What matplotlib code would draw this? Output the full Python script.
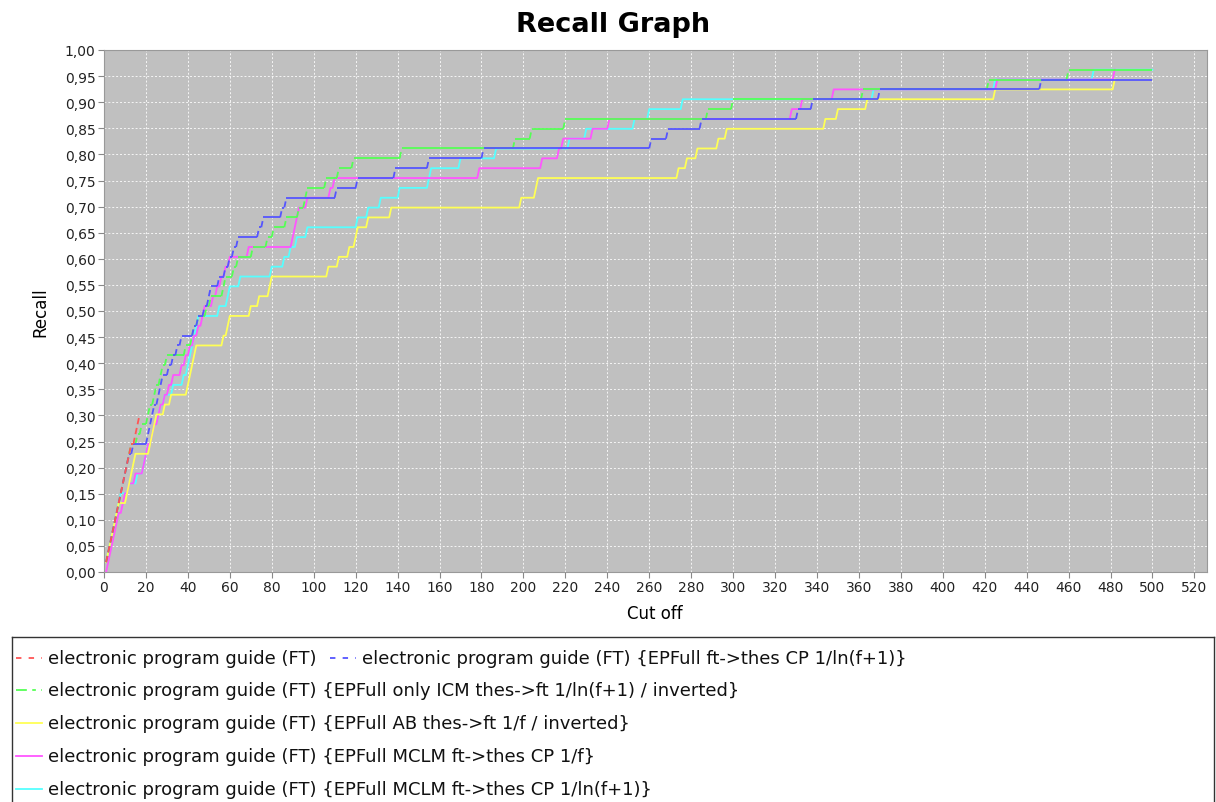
import numpy as np
import matplotlib.pyplot as plt
from matplotlib.lines import Line2D
from matplotlib.collections import LineCollection
from matplotlib.ticker import MultipleLocator, FuncFormatter

plt.rcParams['font.family'] = ['DejaVu Sans']

# total number of relevant documents
n_relevant = 53

labels = [
    "electronic program guide (FT)",
    "electronic program guide (FT) {EPFull ft->thes CP 1/ln(f+1)}",
    "electronic program guide (FT) {EPFull only ICM thes->ft 1/ln(f+1) / inverted}",
    "electronic program guide (FT) {EPFull AB thes->ft 1/f / inverted}",
    "electronic program guide (FT) {EPFull MCLM ft->thes CP 1/f}",
    "electronic program guide (FT) {EPFull MCLM ft->thes CP 1/ln(f+1)}",
]
colors = ["#FF5555", "#5555FF", "#55FF55", "#FFFF55", "#FF55FF", "#55FFFF"]

# ranks (cut off values) at which a relevant document was found
red_hits = [1, 2, 3, 4, 5, 6, 7, 8, 9, 10, 11, 12, 13, 15, 16, 17]
blue_hits = [1, 2, 3, 4, 5, 6, 7, 8, 9, 10, 11, 12, 14, 21, 22, 23, 24, 26, 27, 28,
             31, 33, 35, 37, 43, 45, 48, 50, 51, 55, 58, 60, 62, 64, 74, 76, 85, 87,
             111, 121, 139, 155, 181, 261, 269, 285, 331, 338, 370, 447]
green_hits = [1, 2, 3, 4, 5, 6, 7, 8, 9, 10, 11, 12, 13, 16, 18, 21, 22, 24, 25, 27,
              28, 30, 39, 42, 43, 45, 49, 51, 57, 58, 62, 64, 71, 78, 81, 87, 93, 96,
              97, 106, 112, 119, 142, 196, 204, 220, 288, 300, 362, 422, 460]
yellow_hits = [1, 2, 3, 4, 5, 6, 7, 11, 12, 13, 14, 15, 22, 23, 24, 25, 29, 32, 40,
               41, 42, 43, 44, 57, 59, 60, 70, 74, 79, 80, 107, 112, 117, 120, 121,
               126, 137, 199, 206, 207, 274, 278, 283, 293, 297, 344, 350, 364, 425, 482]
magenta_hits = [2, 3, 4, 5, 6, 7, 9, 10, 12, 15, 19, 20, 21, 23, 24, 26, 27, 29, 31,
                33, 37, 39, 41, 43, 45, 47, 48, 52, 54, 56, 58, 60, 69, 90, 91, 92, 93,
                97, 108, 110, 179, 209, 217, 219, 233, 241, 328, 333, 348, 426, 482]
cyan_hits = [1, 2, 3, 4, 5, 6, 7, 8, 12, 16, 19, 20, 21, 23, 24, 26, 27, 29, 33, 38,
             40, 41, 42, 43, 44, 45, 55, 59, 60, 65, 80, 86, 89, 92, 97, 121, 126, 132,
             141, 155, 156, 170, 187, 222, 230, 253, 260, 276, 367, 425, 472]

# number of cut offs evaluated per run
n_cutoffs = [17, 500, 500, 482, 482, 500]

all_hits = [red_hits, blue_hits, green_hits, yellow_hits, magenta_hits, cyan_hits]
dashed = [True, True, True, False, False, False]


def recall_curve(hits, n_cut):
    k = np.arange(1, n_cut + 1)
    found = np.searchsorted(np.sort(hits), k, side='right')
    return k, found / n_relevant


fig = plt.figure(figsize=(12.16, 8.03), dpi=100)
ax = fig.add_axes([104 / 1216, 1 - 573 / 803, 1103 / 1216, 522 / 803])
ax.set_facecolor("#C0C0C0")

for i in range(len(all_hits)):
    x, y = recall_curve(all_hits[i], n_cutoffs[i])
    if dashed[i]:
        # dash pattern restarts on every segment, like the original renderer
        pts = np.column_stack([x, y])
        segs = np.stack([pts[:-1], pts[1:]], axis=1)
        lc = LineCollection(segs, colors=colors[i], linewidths=1.3,
                            linestyles=[(0, (3.5, 3))], zorder=10 - i)
        ax.add_collection(lc)
    else:
        ax.plot(x, y, color=colors[i], lw=1.3, zorder=10 - i)

ax.set_xlim(0, 526)
ax.set_ylim(0, 1.0)
ax.xaxis.set_major_locator(MultipleLocator(20))
ax.yaxis.set_major_locator(MultipleLocator(0.05))
ax.yaxis.set_major_formatter(FuncFormatter(lambda v, p: f"{v:.2f}".replace('.', ',')))
ax.grid(True, color="white", lw=0.7, ls=(0, (2, 2)), alpha=0.85)
ax.set_axisbelow(True)
ax.tick_params(direction='out', length=4, width=0.8, color="#888888",
               labelsize=10, labelcolor="#222222", pad=2)
for s in ax.spines.values():
    s.set_color("#999999")
    s.set_linewidth(0.8)

fig.text(0.504, 1 - 25 / 803, "Recall Graph", ha='center', va='center',
         fontsize=19.5, fontweight='bold')
fig.text(40 / 1216, 1 - 312 / 803, "Recall", rotation=90, ha='center', va='center',
         fontsize=12)
fig.text(655 / 1216, 1 - 614 / 803, "Cut off", ha='center', va='center', fontsize=12)

# legend box drawn in pixel coordinates
lax = fig.add_axes([12 / 1216, 0, 1202 / 1216, 165 / 803])
lax.set_xlim(0, 1202)
lax.set_ylim(165, 0)
lax.set_xticks([])
lax.set_yticks([])
for s in lax.spines.values():
    s.set_color("#333333")
    s.set_linewidth(1.0)
lax.spines['bottom'].set_visible(False)

handle_ls = [(0, (3, 4)), (0, (3, 4)), (0, (6, 3, 2, 3)), '-', '-', '-']
row_y = [21, 53, 86, 119, 152]
entry_pos = [(4, row_y[0]), (318, row_y[0]), (4, row_y[1]), (4, row_y[2]),
             (4, row_y[3]), (4, row_y[4])]
for i, (hx, hy) in enumerate(entry_pos):
    lax.add_line(Line2D([hx, hx + 26], [hy, hy], color=colors[i], lw=1.3,
                        ls=handle_ls[i]))
    lax.text(hx + 32, hy, labels[i], ha='left', va='center', fontsize=13,
             color="#111111")

fig.savefig("out.png", dpi=100)
